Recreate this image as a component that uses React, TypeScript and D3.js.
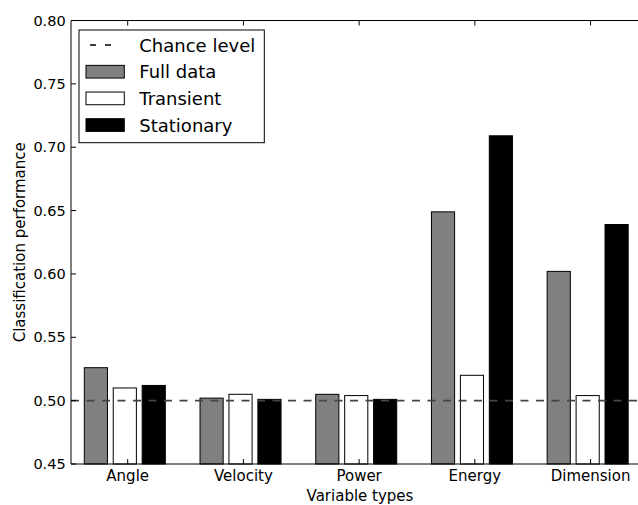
import React from "react";
import * as d3 from "d3";

const categories = ["Angle", "Velocity", "Power", "Energy", "Dimension"];
const seriesNames = ["Full data", "Transient", "Stationary"];
const fullData = [0.526, 0.502, 0.505, 0.649, 0.602];
const transient = [0.51, 0.505, 0.504, 0.52, 0.504];
const stationary = [0.512, 0.501, 0.501, 0.709, 0.639];
const chanceLevel = 0.5;
const yTicks = [0.45, 0.5, 0.55, 0.6, 0.65, 0.7, 0.75, 0.8];
const legendLabels = ["Chance level", "Full data", "Transient", "Stationary"];

const fills = ["#808080", "#ffffff", "#000000"];
const W = 638;
const H = 505;
const FONT = "DejaVu Sans, sans-serif";

export default function App() {
  const left = 71;
  const right = 649;
  const top = 20.5;
  const bottom = 464;
  const x = d3.scaleLinear().domain([-0.115, 4.88]).range([left, right]);
  const y = d3.scaleLinear().domain([0.45, 0.8]).range([bottom, top]);
  const series = [fullData, transient, stationary];
  const barW = 0.2;
  const barStep = 0.25;
  const tickOffset = 0.375;
  const tickLen = 5;

  const legendX = 79;
  const legendY = 30;
  const legendW = 185.3;
  const legendH = 112.7;
  const rowY = (i: number) => 45 + i * 26.67;

  return (
    <svg
      width={W}
      height={H}
      style={{ position: "absolute", left: 0, top: 0, background: "#fff" }}
      fontFamily={FONT}
    >
      <rect x={0} y={0} width={W} height={H} fill="#fff" />
      {/* bars */}
      {series.map((vals, si) =>
        vals.map((v, ci) => {
          const x0 = x(ci + si * barStep);
          const x1 = x(ci + si * barStep + barW);
          return (
            <rect
              key={`b-${si}-${ci}`}
              x={x0}
              y={y(v)}
              width={x1 - x0}
              height={y(0.45) - y(v)}
              fill={fills[si]}
              stroke="#000"
              strokeWidth={1}
            />
          );
        })
      )}
      {/* chance line */}
      <line
        x1={left}
        x2={right}
        y1={y(chanceLevel)}
        y2={y(chanceLevel)}
        stroke="#444"
        strokeWidth={1.7}
        strokeDasharray="8,7.5"
      />
      {/* spines */}
      <line x1={left} x2={right} y1={top} y2={top} stroke="#000" strokeWidth={1} />
      <line x1={left} x2={right} y1={bottom} y2={bottom} stroke="#000" strokeWidth={1} />
      <line x1={left} x2={left} y1={top} y2={bottom} stroke="#000" strokeWidth={1} />
      {/* y ticks */}
      {yTicks.map((t) => (
        <g key={`yt-${t}`}>
          <line x1={left} x2={left + tickLen} y1={y(t)} y2={y(t)} stroke="#000" strokeWidth={1} />
          <text x={65.7} y={y(t) + 5.2} textAnchor="end" fontSize={14.5} fill="#000">
            {d3.format(".2f")(t)}
          </text>
        </g>
      ))}
      {/* x ticks */}
      {categories.map((c, i) => {
        const tx = x(i + tickOffset);
        return (
          <g key={`xt-${c}`}>
            <line x1={tx} x2={tx} y1={bottom} y2={bottom - tickLen} stroke="#000" strokeWidth={1} />
            <line x1={tx} x2={tx} y1={top} y2={top + tickLen} stroke="#000" strokeWidth={1} />
            <text x={tx} y={481} textAnchor="middle" fontSize={15} fill="#000">
              {c}
            </text>
          </g>
        );
      })}
      {/* axis labels */}
      <text x={(left + right) / 2} y={501} textAnchor="middle" fontSize={15} fill="#000">
        Variable types
      </text>
      <text
        transform={`translate(24.5, ${(top + bottom) / 2}) rotate(-90)`}
        textAnchor="middle"
        fontSize={15}
        fill="#000"
      >
        Classification performance
      </text>
      {/* legend */}
      <rect x={legendX} y={legendY} width={legendW} height={legendH} fill="#fff" stroke="#000" strokeWidth={1} />
      <line x1={90} x2={111} y1={rowY(0)} y2={rowY(0)} stroke="#000" strokeWidth={1.5} strokeDasharray="6,9" />
      {seriesNames.map((s, i) => (
        <rect
          key={`lp-${s}`}
          x={86}
          y={rowY(i + 1) - 6.3}
          width={38.3}
          height={12.7}
          fill={fills[i]}
          stroke="#000"
          strokeWidth={1}
        />
      ))}
      {legendLabels.map((l, i) => (
        <text key={`lt-${l}`} x={139.3} y={rowY(i) + 6.6} fontSize={18} fill="#000">
          {l}
        </text>
      ))}
    </svg>
  );
}
